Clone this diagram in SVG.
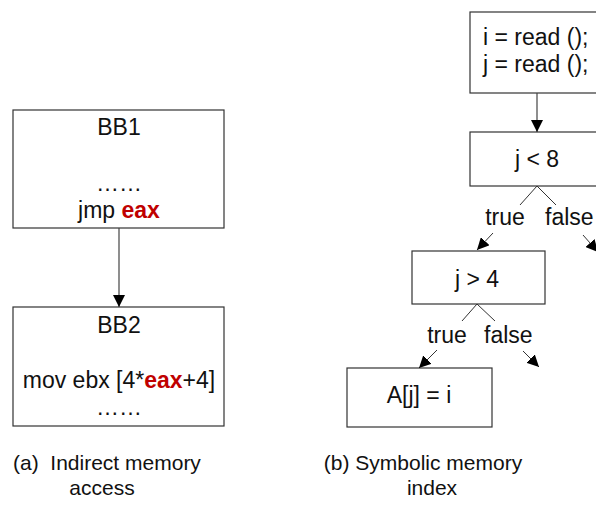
<svg xmlns="http://www.w3.org/2000/svg" width="596" height="508" viewBox="0 0 596 508">
  <style>
    .box { fill: #ffffff; stroke: #333333; stroke-width: 1.2; }
    .edge { stroke: #444444; stroke-width: 1.2; fill: none; }
    .branch { stroke: #333333; stroke-width: 1; fill: none; }
    text { font-family: "Liberation Sans", Arial, sans-serif; fill: #111111; }
    .t { font-size: 23px; }
    .cap { font-size: 21px; }
    .hot { fill: #c00000; font-weight: bold; }
  </style>
  <defs>
    <marker id="head" viewBox="0 0 10 10" refX="10" refY="5" markerWidth="12" markerHeight="12" markerUnits="userSpaceOnUse" orient="auto">
      <path d="M0,0 L10,5 L0,10 z" fill="#000000"/>
    </marker>
  </defs>

  <rect width="596" height="508" fill="#ffffff"/>

  <!-- (a) indirect memory access -->
  <g id="bb1">
    <rect class="box" x="13" y="110" width="211" height="118"/>
    <text class="t" x="119" y="135" text-anchor="middle">BB1</text>
    <text class="t" x="119" y="191" text-anchor="middle">……</text>
    <text class="t" x="119" y="218" text-anchor="middle">jmp <tspan class="hot">eax</tspan></text>
  </g>
  <g id="bb2">
    <rect class="box" x="13" y="307" width="211" height="119"/>
    <text class="t" x="119" y="333" text-anchor="middle">BB2</text>
    <text class="t" x="119" y="388" text-anchor="middle">mov ebx [4*<tspan class="hot">eax</tspan>+4]</text>
    <text class="t" x="119" y="415" text-anchor="middle">……</text>
  </g>

  <!-- (b) symbolic memory index -->
  <g id="reads">
    <rect class="box" x="470" y="12" width="132" height="81"/>
    <text class="t" x="483" y="45">i = read ();</text>
    <text class="t" x="483" y="72">j = read ();</text>
  </g>
  <g id="cond-lt8">
    <rect class="box" x="470" y="132" width="132" height="54"/>
    <text class="t" x="537" y="167" text-anchor="middle">j &lt; 8</text>
  </g>
  <g id="cond-gt4">
    <rect class="box" x="412" y="251" width="133" height="53"/>
    <text class="t" x="477" y="287" text-anchor="middle">j &gt; 4</text>
  </g>
  <g id="store">
    <rect class="box" x="347" y="368" width="145" height="59"/>
    <text class="t" x="419" y="403" text-anchor="middle">A[j] = i</text>
  </g>

  <g id="connectors">
    <line class="edge" x1="119" y1="228" x2="119" y2="307" marker-end="url(#head)"/>
    <line class="edge" x1="537" y1="93" x2="537" y2="132" marker-end="url(#head)"/>

    <!-- j < 8 branches -->
    <polyline class="branch" points="520,205 537,186 556,205"/>
    <text class="t" x="505" y="225" text-anchor="middle">true</text>
    <text class="t" x="545" y="225">false</text>
    <line class="branch" x1="493" y1="233" x2="477" y2="250" marker-end="url(#head)"/>
    <line class="branch" x1="583" y1="235" x2="598" y2="252" marker-end="url(#head)"/>

    <!-- j > 4 branches -->
    <polyline class="branch" points="462,321 477,304 495,321"/>
    <text class="t" x="447" y="343" text-anchor="middle">true</text>
    <text class="t" x="484" y="343">false</text>
    <line class="branch" x1="437" y1="350" x2="419" y2="368" marker-end="url(#head)"/>
    <line class="branch" x1="523" y1="351" x2="539" y2="367" marker-end="url(#head)"/>
  </g>

  <!-- captions -->
  <text class="cap" x="13" y="470" xml:space="preserve">(a)  Indirect memory</text>
  <text class="cap" x="102" y="495" text-anchor="middle">access</text>
  <text class="cap" x="423" y="470" text-anchor="middle">(b) Symbolic memory</text>
  <text class="cap" x="432" y="495" text-anchor="middle">index</text>
</svg>
